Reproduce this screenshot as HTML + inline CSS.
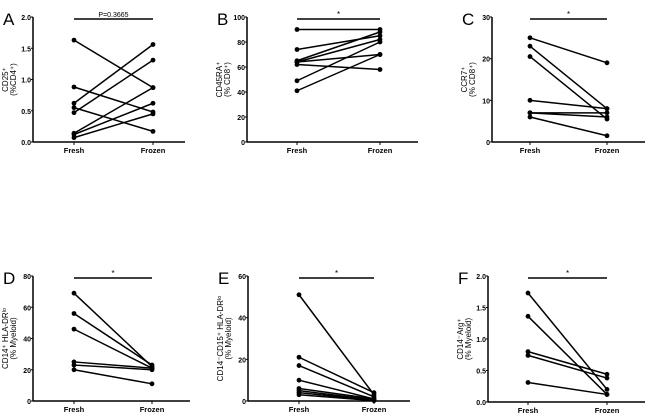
<!DOCTYPE html>
<html><head><meta charset="utf-8"><style>
body{margin:0;background:#fff;font-family:"Liberation Sans",sans-serif}
svg text{font-family:"Liberation Sans",sans-serif}
</style></head><body>
<svg id="chart" width="650" height="414" viewBox="0 0 650 414"></svg>
<script>
const categories = ["Fresh","Frozen"];
const freshA = [1.63,0.88,0.62,0.55,0.47,0.14,0.12,0.07];
const frozenA = [0.87,0.48,1.56,0.17,1.31,0.87,0.62,0.45];
const freshB = [90,74,65,64,64,62,49,41];
const frozenB = [90,85,88,82,70,58,80,70];
const freshC = [25,23,20.5,10,7,7,6];
const frozenC = [19,8,5.5,8,7,6,1.5];
const freshD = [69,56,46,25,23,20];
const frozenD = [22,23,21,21,20,11];
const freshE = [51,21,17,10,6,5,4,3];
const frozenE = [3,4,2,1,1,0.5,0.3,0.2];
const freshF = [1.73,1.36,0.8,0.74,0.31];
const frozenF = [0.2,0.12,0.44,0.38,0.12];
const ticksA = [0,0.5,1.0,1.5,2.0];
const ticksB = [0,20,40,60,80,100];
const ticksC = [0,10,20,30];
const ticksD = [0,20,40,60,80];
const ticksE = [0,20,40,60];
const ticksF = [0,0.5,1.0,1.5,2.0];

const NS="http://www.w3.org/2000/svg";
const svg=document.getElementById('chart');
function mk(tag,attrs,parent){const e=document.createElementNS(NS,tag);for(const k in attrs)e.setAttribute(k,attrs[k]);(parent||svg).appendChild(e);return e;}

const panels=[
 {id:'a',letter:'A',ax:33,top:17,bot:142,xend:185,fx:74,zx:153,max:2,ticks:ticksA,dec:1,fresh:freshA,frozen:frozenA,sig:'P=0.3665',l1:'CD25⁺',l2:'(%CD4⁺)'},
 {id:'b',letter:'B',ax:247,top:17,bot:142,xend:418,fx:297,zx:380,max:100,ticks:ticksB,dec:0,fresh:freshB,frozen:frozenB,sig:'*',l1:'CD45RA⁺',l2:'(% CD8⁺)'},
 {id:'c',letter:'C',ax:492,top:17,bot:142,xend:645,fx:530,zx:607,max:30,ticks:ticksC,dec:0,fresh:freshC,frozen:frozenC,sig:'*',l1:'CCR7⁺',l2:'(% CD8⁺)'},
 {id:'d',letter:'D',ax:33,top:276,bot:401,xend:190,fx:74,zx:152,max:80,ticks:ticksD,dec:0,fresh:freshD,frozen:frozenD,sig:'*',l1:'CD14⁺ HLA-DRˡᵒ',l2:'(% Myeloid)'},
 {id:'e',letter:'E',ax:248,top:276,bot:401,xend:410,fx:299,zx:374,max:60,ticks:ticksE,dec:0,fresh:freshE,frozen:frozenE,sig:'*',l1:'CD14⁻CD15⁺ HLA-DRˡᵒ',l2:'(% Myeloid)'},
 {id:'f',letter:'F',ax:488,top:276,bot:402,xend:645,fx:528,zx:607,max:2,ticks:ticksF,dec:1,fresh:freshF,frozen:frozenF,sig:'*',l1:'CD14⁻Arg⁺',l2:'(% Myeloid)'}
];

panels.forEach(p=>{
 const g=mk('g',{});
 
 
 const y=v=>p.bot-(v/p.max)*(p.bot-p.top);
 const t=mk('text',{x:p.ax-30,y:p.top+8,'font-size':17},g);t.textContent=p.letter;
 
 const ya=mk('line',{x1:p.ax,y1:p.top,x2:p.ax,y2:p.bot,stroke:'#000','stroke-width':1.5},g);
 
 const xa=mk('line',{x1:p.ax,y1:p.bot,x2:p.xend,y2:p.bot,stroke:'#000','stroke-width':1.5},g);
 
 p.ticks.forEach(v=>{
  mk('line',{x1:p.ax-2,y1:y(v),x2:p.ax,y2:y(v),stroke:'#000'},g);
  const tt=mk('text',{x:p.ax-2,y:y(v)+3,'font-size':7,'text-anchor':'end','font-weight':'bold'},g);
  tt.textContent=v.toFixed(p.dec);
  
 });
 [p.fx,p.zx].forEach((x,i)=>{
  mk('line',{x1:x,y1:p.bot,x2:x,y2:p.bot+3,stroke:'#000'},g);
  const tt=mk('text',{x:x,y:p.bot+11,'font-size':7.5,'text-anchor':'middle','font-weight':'bold'},g);
  tt.textContent=categories[i];
  
 });
 const yc=(p.top+p.bot)/2;
 const yl=mk('text',{transform:`translate(${p.ax-25},${yc}) rotate(-90)`,'font-size':8,'text-anchor':'middle'},g);
 yl.textContent=p.l1;
 const yl2=mk('text',{transform:`translate(${p.ax-17},${yc}) rotate(-90)`,'font-size':8,'text-anchor':'middle'},g);
 yl2.textContent=p.l2;
 const sl=mk('line',{x1:p.fx,y1:p.top+2,x2:p.zx,y2:p.top+2,stroke:'#000','stroke-width':1.5},g);
 
 const st=mk('text',{x:(p.fx+p.zx)/2,y:p.top,'font-size':p.sig=='*'?8:7,'text-anchor':'middle'},g);
 st.textContent=p.sig;
 p.fresh.forEach((v,i)=>{
  const l=mk('line',{x1:p.fx,y1:y(v),x2:p.zx,y2:y(p.frozen[i]),stroke:'#000','stroke-width':1.5},g);
  
  const c1=mk('circle',{cx:p.fx,cy:y(v),r:2.4,fill:'#000'},g);
  
  const c2=mk('circle',{cx:p.zx,cy:y(p.frozen[i]),r:2.4,fill:'#000'},g);
  
 });
});
</script>
</body></html>
